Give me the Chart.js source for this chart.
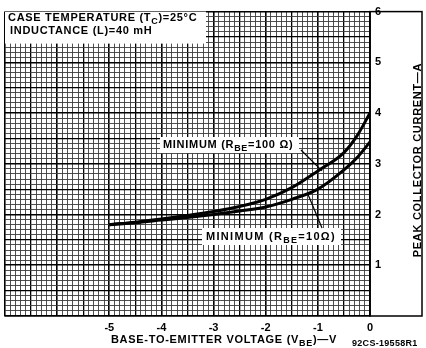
<!DOCTYPE html>
<html>
<head>
<meta charset="utf-8">
<script src="https://cdn.jsdelivr.net/npm/chart.js@4/dist/chart.umd.min.js"></script>
<style>
  body { margin: 0; background: #fff; }
  canvas { display: block; }
</style>
</head>
<body>
<canvas id="grafico" width="426" height="348"></canvas>
<script>
// base-to-emitter voltage (V)
const voltajes = [-5, -4.5, -4, -3.5, -3, -2.5, -2, -1.5, -1, -0.5, -0.25, 0];
// peak collector current (A)
const minimo100 = [1.8, 1.85, 1.91, 1.98, 2.06, 2.16, 2.3, 2.53, 2.86, 3.22, 3.55, 4.0];
const minimo10 = [1.8, 1.84, 1.89, 1.94, 2.0, 2.07, 2.15, 2.3, 2.5, 2.88, 3.12, 3.43];
const etiquetasX = [-5, -4, -3, -2, -1, 0];
const etiquetasY = [1, 2, 3, 4, 5, 6];

const fuente = "'Liberation Sans', Arial, sans-serif";

function pasos(min, max) {
  const t = [];
  for (let i = Math.round(min * 10); i <= Math.round(max * 10); i++) t.push({ value: i / 10 });
  return t;
}
function colorGrid(ctx) {
  const v = Math.round((ctx.tick ? ctx.tick.value : 0) * 10);
  return v % 5 === 0 ? "#000" : "#3c3c3c";
}
function anchoGrid(ctx) {
  const v = Math.round((ctx.tick ? ctx.tick.value : 0) * 10);
  if (v % 10 === 0) return 1.6;
  if (v % 5 === 0) return 1.3;
  return 0.9;
}

// texto con subindices: partes = [[texto, esSub], ...]
function textoRico(c, partes, x, y, tam) {
  let px = x;
  partes.forEach(([t, sub]) => {
    c.font = "bold " + (sub ? tam - 2 : tam) + "px " + fuente;
    c.fillText(t, px, sub ? y + 3 : y);
    px += c.measureText(t).width;
  });
  return px - x;
}
function anchoRico(c, partes, tam) {
  let w = 0;
  partes.forEach(([t, sub]) => {
    c.font = "bold " + (sub ? tam - 2 : tam) + "px " + fuente;
    w += c.measureText(t).width;
  });
  return w;
}

const notas = {
  id: "notas",
  afterDraw(chart) {
    const c = chart.ctx;
    const a = chart.chartArea;
    const x = chart.scales.x, y = chart.scales.y;
    c.save();
    c.fillStyle = "#000";
    c.strokeStyle = "#000";
    c.textBaseline = "alphabetic";
    c.letterSpacing = "0.7px";

    // marco del eje derecho
    c.lineWidth = 1.5;
    c.strokeRect(a.right, a.top, 422 - a.right, a.bottom - a.top);

    // cuadro de condiciones
    c.fillStyle = "#fff";
    c.fillRect(a.left, a.top, 201, 32);
    c.fillStyle = "#000";
    textoRico(c, [["CASE TEMPERATURE (T", false], ["C", true], [")=25°C", false]], 8, 21, 11);
    textoRico(c, [["INDUCTANCE (L)=40 mH", false]], 10, 34, 11);

    // etiqueta R_BE = 100
    c.fillStyle = "#fff";
    c.fillRect(160, 137, 139, 16);
    c.fillStyle = "#000";
    textoRico(c, [["MINIMUM (R", false], ["BE", true], ["=100 Ω)", false]], 163, 148, 11);
    c.lineWidth = 1.2;
    c.beginPath();
    c.moveTo(301, 150);
    c.lineTo(x.getPixelForValue(-0.92), y.getPixelForValue(2.86));
    c.stroke();

    // etiqueta R_BE = 10
    c.fillStyle = "#fff";
    c.fillRect(202, 228, 139, 17);
    c.fillStyle = "#000";
    c.letterSpacing = "1.3px";
    textoRico(c, [["MINIMUM (R", false], ["BE", true], ["=10Ω)", false]], 206, 240, 11);
    c.letterSpacing = "0.7px";
    c.beginPath();
    c.moveTo(322, 228);
    c.lineTo(x.getPixelForValue(-1.19), y.getPixelForValue(2.4));
    c.stroke();

    // titulo eje x
    const px = [["BASE-TO-EMITTER VOLTAGE (V", false], ["BE", true], [")—V", false]];
    const w = anchoRico(c, px, 11);
    textoRico(c, px, 224 - w / 2, 343, 11);

    // titulo eje y
    c.save();
    c.translate(421, 160);
    c.rotate(-Math.PI / 2);
    c.textAlign = "center";
    c.font = "bold 11px " + fuente;
    c.fillText("PEAK COLLECTOR CURRENT—A", 0, 0);
    c.restore();

    // codigo de figura
    c.letterSpacing = "0.3px";
    c.font = "bold 9px " + fuente;
    c.fillText("92CS-19558R1", 352, 346);
    c.restore();
  }
};

const ctx = document.getElementById("grafico").getContext("2d");
new Chart(ctx, {
  type: "line",
  data: {
    datasets: [
      {
        label: "Minimum (RBE = 100 Ω)",
        data: voltajes.map((v, i) => ({ x: v, y: minimo100[i] })),
        borderColor: "#000",
        borderWidth: 3,
        pointRadius: 0,
        cubicInterpolationMode: "monotone"
      },
      {
        label: "Minimum (RBE = 10 Ω)",
        data: voltajes.map((v, i) => ({ x: v, y: minimo10[i] })),
        borderColor: "#000",
        borderWidth: 3,
        pointRadius: 0,
        cubicInterpolationMode: "monotone"
      }
    ]
  },
  options: {
    responsive: false,
    animation: false,
    devicePixelRatio: 1,
    layout: { padding: { left: 4, top: 6, right: 0, bottom: 0 } },
    plugins: { legend: { display: false }, tooltip: { enabled: false } },
    scales: {
      x: {
        type: "linear",
        min: -7,
        max: 0,
        afterBuildTicks: s => { s.ticks = pasos(-7, 0); },
        afterFit: s => { s.height = 32; },
        grid: { color: colorGrid, lineWidth: anchoGrid, drawTicks: false },
        border: { color: "#000", width: 1.6 },
        ticks: {
          autoSkip: false,
          maxRotation: 0,
          padding: 5,
          color: "#000",
          font: { family: fuente, size: 11, weight: "bold" },
          callback: v => {
            const r = Math.round(v * 10) / 10;
            return etiquetasX.includes(r) ? String(r) : "";
          }
        }
      },
      y: {
        type: "linear",
        position: "right",
        min: 0,
        max: 6,
        afterBuildTicks: s => { s.ticks = pasos(0, 6); },
        afterFit: s => { s.width = 56; },
        grid: { color: colorGrid, lineWidth: anchoGrid, drawTicks: false },
        border: { color: "#000", width: 1.6 },
        ticks: {
          autoSkip: false,
          padding: 5,
          color: "#000",
          font: { family: fuente, size: 11, weight: "bold" },
          callback: v => {
            const r = Math.round(v * 10) / 10;
            return etiquetasY.includes(r) ? String(r) : "";
          }
        }
      }
    }
  },
  plugins: [notas]
});
</script>
</body>
</html>
